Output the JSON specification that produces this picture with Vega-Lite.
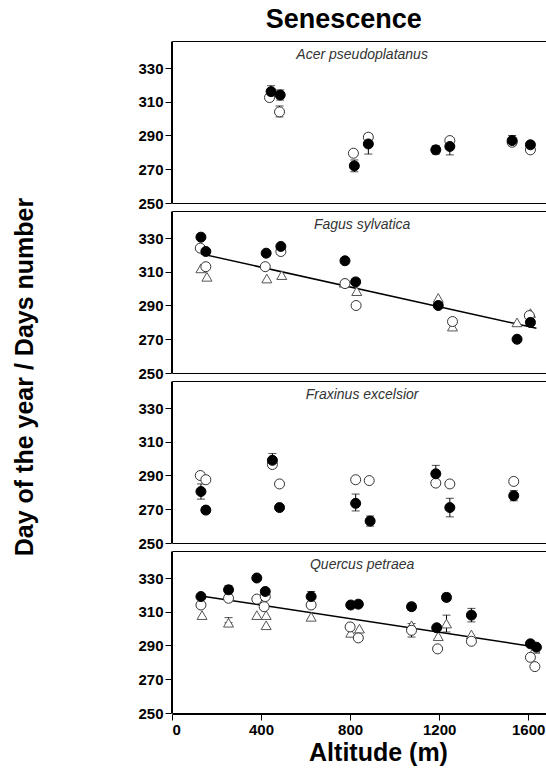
{
  "$schema": "https://vega.github.io/schema/vega-lite/v6.json",
  "padding": {"left": 12, "right": 0, "top": 5, "bottom": 2},
  "title": {"text": "Senescence", "fontSize": 27, "fontWeight": "bold", "font": "Liberation Sans", "anchor": "middle", "color": "black", "offset": 7, "dx": 64},
  "config": {
    "font": "Liberation Sans",
    "view": {"stroke": "black", "strokeWidth": 1},
    "axis": {"grid": false, "domainColor": "black", "tickColor": "black", "labelColor": "black", "labelFontSize": 15, "labelFontWeight": "bold", "tickSize": 6, "labelPadding": 2, "titleColor": "black", "titleFontWeight": "bold"}
  },
  "data": {"values": [
    {"species": "Acer pseudoplatanus", "kind": "label"},
    {"species": "Fagus sylvatica", "kind": "label"},
    {"species": "Fraxinus excelsior", "kind": "label"},
    {"species": "Quercus petraea", "kind": "label"},
    {"species": "Acer pseudoplatanus", "kind": "obs", "s": "s1", "alt": 445, "day": 316, "lo": 312.5, "hi": 319.5},
    {"species": "Acer pseudoplatanus", "kind": "obs", "s": "s1", "alt": 486, "day": 314, "lo": 311, "hi": 317},
    {"species": "Acer pseudoplatanus", "kind": "obs", "s": "s2", "alt": 438, "day": 312.5},
    {"species": "Acer pseudoplatanus", "kind": "obs", "s": "s2", "alt": 483, "day": 304, "lo": 301, "hi": 307.5},
    {"species": "Acer pseudoplatanus", "kind": "obs", "s": "s1", "alt": 819, "day": 272, "lo": 268.5, "hi": 275.5},
    {"species": "Acer pseudoplatanus", "kind": "obs", "s": "s2", "alt": 815, "day": 279.5},
    {"species": "Acer pseudoplatanus", "kind": "obs", "s": "s1", "alt": 882, "day": 285, "lo": 279, "hi": 291},
    {"species": "Acer pseudoplatanus", "kind": "obs", "s": "s2", "alt": 882, "day": 289},
    {"species": "Acer pseudoplatanus", "kind": "obs", "s": "s1", "alt": 1185, "day": 281.5, "lo": 279, "hi": 284},
    {"species": "Acer pseudoplatanus", "kind": "obs", "s": "s1", "alt": 1248, "day": 283.5, "lo": 278.5, "hi": 288.5},
    {"species": "Acer pseudoplatanus", "kind": "obs", "s": "s2", "alt": 1248, "day": 287},
    {"species": "Acer pseudoplatanus", "kind": "obs", "s": "s1", "alt": 1528, "day": 287, "lo": 284, "hi": 290},
    {"species": "Acer pseudoplatanus", "kind": "obs", "s": "s2", "alt": 1528, "day": 286},
    {"species": "Acer pseudoplatanus", "kind": "obs", "s": "s1", "alt": 1610, "day": 284.5},
    {"species": "Acer pseudoplatanus", "kind": "obs", "s": "s2", "alt": 1610, "day": 281.5},

    {"species": "Fagus sylvatica", "kind": "obs", "s": "s1", "alt": 130, "day": 330.5},
    {"species": "Fagus sylvatica", "kind": "obs", "s": "s1", "alt": 152, "day": 322},
    {"species": "Fagus sylvatica", "kind": "obs", "s": "s1", "alt": 423, "day": 321},
    {"species": "Fagus sylvatica", "kind": "obs", "s": "s1", "alt": 489, "day": 325},
    {"species": "Fagus sylvatica", "kind": "obs", "s": "s1", "alt": 777, "day": 316.5},
    {"species": "Fagus sylvatica", "kind": "obs", "s": "s1", "alt": 825, "day": 304},
    {"species": "Fagus sylvatica", "kind": "obs", "s": "s1", "alt": 1196, "day": 290},
    {"species": "Fagus sylvatica", "kind": "obs", "s": "s1", "alt": 1550, "day": 270},
    {"species": "Fagus sylvatica", "kind": "obs", "s": "s1", "alt": 1610, "day": 280},
    {"species": "Fagus sylvatica", "kind": "obs", "s": "s2", "alt": 127, "day": 324},
    {"species": "Fagus sylvatica", "kind": "obs", "s": "s2", "alt": 152, "day": 313},
    {"species": "Fagus sylvatica", "kind": "obs", "s": "s2", "alt": 419, "day": 313},
    {"species": "Fagus sylvatica", "kind": "obs", "s": "s2", "alt": 489, "day": 322},
    {"species": "Fagus sylvatica", "kind": "obs", "s": "s2", "alt": 777, "day": 303},
    {"species": "Fagus sylvatica", "kind": "obs", "s": "s2", "alt": 827, "day": 290},
    {"species": "Fagus sylvatica", "kind": "obs", "s": "s2", "alt": 1260, "day": 280.5},
    {"species": "Fagus sylvatica", "kind": "obs", "s": "s2", "alt": 1605, "day": 284},
    {"species": "Fagus sylvatica", "kind": "obs", "s": "s3", "alt": 130, "day": 312},
    {"species": "Fagus sylvatica", "kind": "obs", "s": "s3", "alt": 157, "day": 307},
    {"species": "Fagus sylvatica", "kind": "obs", "s": "s3", "alt": 426, "day": 306},
    {"species": "Fagus sylvatica", "kind": "obs", "s": "s3", "alt": 493, "day": 308},
    {"species": "Fagus sylvatica", "kind": "obs", "s": "s3", "alt": 774, "day": 303.5},
    {"species": "Fagus sylvatica", "kind": "obs", "s": "s3", "alt": 830, "day": 298.5},
    {"species": "Fagus sylvatica", "kind": "obs", "s": "s3", "alt": 1196, "day": 294.5},
    {"species": "Fagus sylvatica", "kind": "obs", "s": "s3", "alt": 1260, "day": 277.5},
    {"species": "Fagus sylvatica", "kind": "obs", "s": "s3", "alt": 1550, "day": 280},
    {"species": "Fagus sylvatica", "kind": "obs", "s": "s3", "alt": 1610, "day": 285.5},
    {"species": "Fagus sylvatica", "kind": "fit", "alt": 130, "day": 320.6},
    {"species": "Fagus sylvatica", "kind": "fit", "alt": 1637, "day": 276.5},

    {"species": "Fraxinus excelsior", "kind": "obs", "s": "s2", "alt": 127, "day": 290},
    {"species": "Fraxinus excelsior", "kind": "obs", "s": "s2", "alt": 152, "day": 287.5},
    {"species": "Fraxinus excelsior", "kind": "obs", "s": "s2", "alt": 451, "day": 296.5},
    {"species": "Fraxinus excelsior", "kind": "obs", "s": "s2", "alt": 483, "day": 285},
    {"species": "Fraxinus excelsior", "kind": "obs", "s": "s2", "alt": 825, "day": 287.5},
    {"species": "Fraxinus excelsior", "kind": "obs", "s": "s2", "alt": 886, "day": 287},
    {"species": "Fraxinus excelsior", "kind": "obs", "s": "s2", "alt": 1185, "day": 285.5},
    {"species": "Fraxinus excelsior", "kind": "obs", "s": "s2", "alt": 1248, "day": 285},
    {"species": "Fraxinus excelsior", "kind": "obs", "s": "s2", "alt": 1535, "day": 286.5},
    {"species": "Fraxinus excelsior", "kind": "obs", "s": "s1", "alt": 130, "day": 280.5, "lo": 276, "hi": 285},
    {"species": "Fraxinus excelsior", "kind": "obs", "s": "s1", "alt": 152, "day": 269.5, "lo": 267.5, "hi": 271.5},
    {"species": "Fraxinus excelsior", "kind": "obs", "s": "s1", "alt": 451, "day": 299, "lo": 295, "hi": 303},
    {"species": "Fraxinus excelsior", "kind": "obs", "s": "s1", "alt": 483, "day": 271},
    {"species": "Fraxinus excelsior", "kind": "obs", "s": "s1", "alt": 825, "day": 273.5, "lo": 269, "hi": 279},
    {"species": "Fraxinus excelsior", "kind": "obs", "s": "s1", "alt": 890, "day": 263, "lo": 260, "hi": 266},
    {"species": "Fraxinus excelsior", "kind": "obs", "s": "s1", "alt": 1185, "day": 291, "lo": 286, "hi": 296},
    {"species": "Fraxinus excelsior", "kind": "obs", "s": "s1", "alt": 1248, "day": 271, "lo": 265.5, "hi": 276.5},
    {"species": "Fraxinus excelsior", "kind": "obs", "s": "s1", "alt": 1535, "day": 278, "lo": 275, "hi": 281},

    {"species": "Quercus petraea", "kind": "obs", "s": "s1", "alt": 130, "day": 319},
    {"species": "Quercus petraea", "kind": "obs", "s": "s1", "alt": 254, "day": 323, "lo": 320.5, "hi": 325.5},
    {"species": "Quercus petraea", "kind": "obs", "s": "s1", "alt": 381, "day": 330},
    {"species": "Quercus petraea", "kind": "obs", "s": "s1", "alt": 419, "day": 322},
    {"species": "Quercus petraea", "kind": "obs", "s": "s1", "alt": 625, "day": 319, "lo": 316, "hi": 322},
    {"species": "Quercus petraea", "kind": "obs", "s": "s1", "alt": 803, "day": 314},
    {"species": "Quercus petraea", "kind": "obs", "s": "s1", "alt": 837, "day": 314.5},
    {"species": "Quercus petraea", "kind": "obs", "s": "s1", "alt": 1076, "day": 313, "lo": 311, "hi": 315},
    {"species": "Quercus petraea", "kind": "obs", "s": "s1", "alt": 1189, "day": 300.5},
    {"species": "Quercus petraea", "kind": "obs", "s": "s1", "alt": 1233, "day": 318.5, "lo": 316.5, "hi": 321},
    {"species": "Quercus petraea", "kind": "obs", "s": "s1", "alt": 1345, "day": 308, "lo": 304, "hi": 312},
    {"species": "Quercus petraea", "kind": "obs", "s": "s1", "alt": 1610, "day": 291},
    {"species": "Quercus petraea", "kind": "obs", "s": "s1", "alt": 1637, "day": 289},
    {"species": "Quercus petraea", "kind": "obs", "s": "s2", "alt": 130, "day": 314},
    {"species": "Quercus petraea", "kind": "obs", "s": "s2", "alt": 254, "day": 318},
    {"species": "Quercus petraea", "kind": "obs", "s": "s2", "alt": 381, "day": 317.5},
    {"species": "Quercus petraea", "kind": "obs", "s": "s2", "alt": 419, "day": 319},
    {"species": "Quercus petraea", "kind": "obs", "s": "s2", "alt": 414, "day": 313},
    {"species": "Quercus petraea", "kind": "obs", "s": "s2", "alt": 625, "day": 314},
    {"species": "Quercus petraea", "kind": "obs", "s": "s2", "alt": 800, "day": 301},
    {"species": "Quercus petraea", "kind": "obs", "s": "s2", "alt": 837, "day": 294.5},
    {"species": "Quercus petraea", "kind": "obs", "s": "s2", "alt": 1076, "day": 299, "lo": 295, "hi": 303},
    {"species": "Quercus petraea", "kind": "obs", "s": "s2", "alt": 1193, "day": 288},
    {"species": "Quercus petraea", "kind": "obs", "s": "s2", "alt": 1345, "day": 292.5},
    {"species": "Quercus petraea", "kind": "obs", "s": "s2", "alt": 1610, "day": 283},
    {"species": "Quercus petraea", "kind": "obs", "s": "s2", "alt": 1630, "day": 277.5},
    {"species": "Quercus petraea", "kind": "obs", "s": "s3", "alt": 135, "day": 308},
    {"species": "Quercus petraea", "kind": "obs", "s": "s3", "alt": 254, "day": 303.5, "lo": 303.5, "hi": 306.5},
    {"species": "Quercus petraea", "kind": "obs", "s": "s3", "alt": 381, "day": 308},
    {"species": "Quercus petraea", "kind": "obs", "s": "s3", "alt": 423, "day": 308},
    {"species": "Quercus petraea", "kind": "obs", "s": "s3", "alt": 423, "day": 302},
    {"species": "Quercus petraea", "kind": "obs", "s": "s3", "alt": 625, "day": 307},
    {"species": "Quercus petraea", "kind": "obs", "s": "s3", "alt": 803, "day": 297.5},
    {"species": "Quercus petraea", "kind": "obs", "s": "s3", "alt": 842, "day": 300},
    {"species": "Quercus petraea", "kind": "obs", "s": "s3", "alt": 1076, "day": 302},
    {"species": "Quercus petraea", "kind": "obs", "s": "s3", "alt": 1196, "day": 295.5},
    {"species": "Quercus petraea", "kind": "obs", "s": "s3", "alt": 1233, "day": 303, "lo": 298, "hi": 308},
    {"species": "Quercus petraea", "kind": "obs", "s": "s3", "alt": 1345, "day": 296.5},
    {"species": "Quercus petraea", "kind": "obs", "s": "s3", "alt": 1630, "day": 288},
    {"species": "Quercus petraea", "kind": "fit", "alt": 130, "day": 319.4},
    {"species": "Quercus petraea", "kind": "fit", "alt": 1640, "day": 289}
  ]},
  "facet": {"row": {"field": "species", "type": "nominal", "sort": ["Acer pseudoplatanus", "Fagus sylvatica", "Fraxinus excelsior", "Quercus petraea"], "header": {"labels": false, "title": "Day of the year / Days number", "titleFontSize": 25, "titleFontWeight": "bold", "titleColor": "black", "titleFont": "Liberation Sans", "titlePadding": 89}}},
  "spacing": {"row": 6},
  "spec": {
    "width": 374,
    "height": 162,
    "layer": [
      {
        "transform": [{"filter": "datum.kind == 'obs' && isValid(datum.lo)"}],
        "mark": {"type": "errorbar", "ticks": {"size": 8, "color": "black"}, "color": "black", "thickness": 1},
        "encoding": {
          "x": {"field": "alt", "type": "quantitative", "scale": {"domain": [0, 1680], "nice": false}, "axis": {"values": [0, 400, 800, 1200, 1600], "format": "d", "title": "Altitude (m)", "titleFontSize": 25, "titlePadding": 3, "titleX": 206}},
          "y": {"field": "lo", "type": "quantitative", "scale": {"domain": [250, 346], "nice": false, "zero": false}, "title": null, "axis": {"values": [250, 270, 290, 310, 330]}},
          "y2": {"field": "hi"}
        }
      },
      {
        "transform": [{"filter": "datum.kind == 'fit'"}],
        "mark": {"type": "line", "color": "black", "strokeWidth": 1.5},
        "encoding": {
          "x": {"field": "alt", "type": "quantitative"},
          "y": {"field": "day", "type": "quantitative", "title": null}
        }
      },
      {
        "transform": [{"filter": "datum.kind == 'obs'"}],
        "mark": {"type": "point", "filled": true, "strokeWidth": 1, "opacity": 1},
        "encoding": {
          "x": {"field": "alt", "type": "quantitative"},
          "y": {"field": "day", "type": "quantitative", "title": null},
          "shape": {"field": "s", "type": "nominal", "scale": {"domain": ["s1", "s2", "s3"], "range": ["circle", "circle", "triangle-up"]}, "legend": null},
          "size": {"field": "s", "type": "nominal", "scale": {"domain": ["s1", "s2", "s3"], "range": [100, 100, 140]}, "legend": null},
          "fill": {"field": "s", "type": "nominal", "scale": {"domain": ["s1", "s2", "s3"], "range": ["black", "white", "white"]}, "legend": null},
          "stroke": {"field": "s", "type": "nominal", "scale": {"domain": ["s1", "s2", "s3"], "range": ["black", "#333333", "#555555"]}, "legend": null},
          "order": {"field": "s", "sort": "descending"}
        }
      },
      {
        "transform": [{"filter": "datum.kind == 'label'"}],
        "mark": {"type": "text", "fontStyle": "italic", "fontSize": 14, "fill": "#333333", "baseline": "middle", "align": "center"},
        "encoding": {
          "x": {"datum": 854, "type": "quantitative"},
          "y": {"datum": 337.5, "type": "quantitative"},
          "text": {"field": "species", "type": "nominal"}
        }
      }
    ]
  }
}
